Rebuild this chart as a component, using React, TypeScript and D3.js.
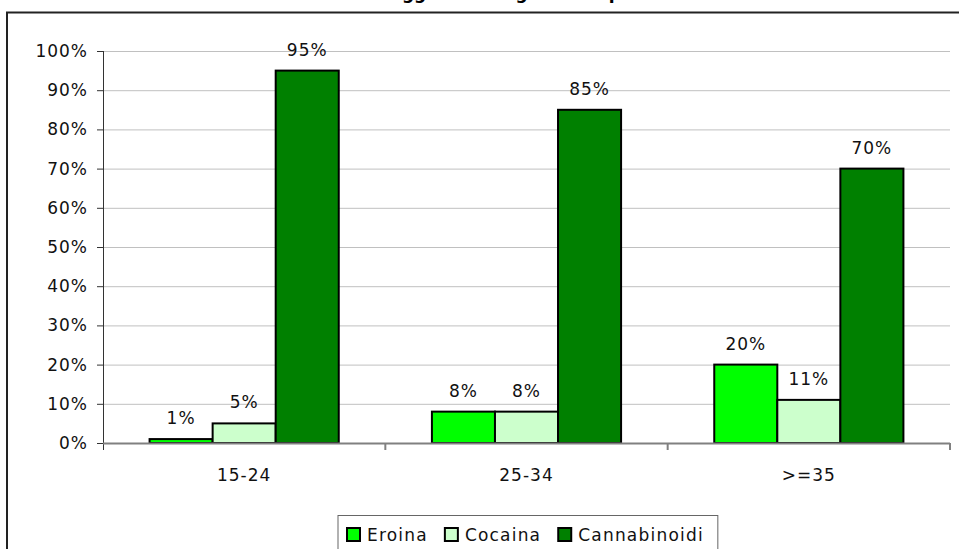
import React, { useEffect, useRef } from "react";
import * as d3 from "d3";

const categories = ["15-24", "25-34", ">=35"];
const seriesNames = ["Eroina", "Cocaina", "Cannabinoidi"];
const seriesColors = ["#00FF00", "#CCFFCC", "#008000"];
const eroina = [1, 8, 20];
const cocaina = [5, 8, 11];
const cannabinoidi = [95, 85, 70];
const yTicks = [0, 10, 20, 30, 40, 50, 60, 70, 80, 90, 100];
const title = "Soggetti e droga di uso primario";

const W = 959;
const H = 549;
const FONT = "'DejaVu Sans', Verdana, sans-serif";

export default function App() {
  const ref = useRef<SVGSVGElement | null>(null);

  useEffect(() => {
    const svg = d3.select(ref.current);
    svg.selectAll("*").remove();

    const plot = { left: 103, right: 950, top: 51, bottom: 443 };
    const series = [eroina, cocaina, cannabinoidi];

    // chart frame (extends past the right/bottom edges)
    svg
      .append("rect")
      .attr("x", 7)
      .attr("y", 12.5)
      .attr("width", W + 20)
      .attr("height", H + 20)
      .attr("fill", "#fff")
      .attr("stroke", "#222")
      .attr("stroke-width", 2);

    // title, sitting above the top edge of the frame
    svg
      .append("text")
      .attr("x", 378)
      .attr("y", -1)
      .attr("font-family", FONT)
      .attr("font-weight", "bold")
      .attr("font-size", 17)
      .attr("fill", "#000")
      .text(title);

    const x0 = d3
      .scaleBand<string>()
      .domain(categories)
      .range([plot.left, plot.right])
      .paddingInner(0)
      .paddingOuter(0);
    const groupInner = 0.67; // fraction of band used by bars
    const x1 = d3
      .scaleBand<string>()
      .domain(seriesNames)
      .range([0, x0.bandwidth() * groupInner]);
    const groupOffset = (x0.bandwidth() * (1 - groupInner)) / 2;

    const y = d3.scaleLinear().domain([0, 100]).range([plot.bottom, plot.top]);

    // gridlines
    svg
      .append("g")
      .selectAll("line")
      .data(yTicks.filter((t) => t > 0))
      .join("line")
      .attr("x1", plot.left)
      .attr("x2", plot.right)
      .attr("y1", (d) => y(d) + 0.5)
      .attr("y2", (d) => y(d) + 0.5)
      .attr("stroke", "#c0c0c0")
      .attr("stroke-width", 1);

    // y axis
    const yAxis = svg.append("g");
    yAxis
      .append("line")
      .attr("x1", plot.left + 0.5)
      .attr("x2", plot.left + 0.5)
      .attr("y1", plot.top)
      .attr("y2", plot.bottom + 7)
      .attr("stroke", "#333")
      .attr("stroke-width", 1);
    yAxis
      .selectAll("line.tick")
      .data(yTicks)
      .join("line")
      .attr("class", "tick")
      .attr("x1", plot.left - 6)
      .attr("x2", plot.left)
      .attr("y1", (d) => y(d) + 0.5)
      .attr("y2", (d) => y(d) + 0.5)
      .attr("stroke", "#333");
    yAxis
      .selectAll("text")
      .data(yTicks)
      .join("text")
      .attr("x", plot.left - 15)
      .attr("y", (d) => y(d) + 6)
      .attr("text-anchor", "end")
      .attr("font-family", FONT)
      .attr("font-size", 17)
      .attr("letter-spacing", 1)
      .attr("fill", "#111")
      .text((d) => `${d}%`);

    // bars
    const groups = svg
      .append("g")
      .selectAll("g")
      .data(categories)
      .join("g")
      .attr("transform", (c) => `translate(${(x0(c) as number) + groupOffset},0)`);

    groups.each(function (c, ci) {
      const g = d3.select(this);
      seriesNames.forEach((s, si) => {
        const v = series[si][ci];
        g.append("rect")
          .attr("x", x1(s) as number)
          .attr("y", y(v))
          .attr("width", x1.bandwidth())
          .attr("height", plot.bottom - y(v))
          .attr("fill", seriesColors[si])
          .attr("stroke", "#000")
          .attr("stroke-width", 2);
        g.append("text")
          .attr("x", (x1(s) as number) + x1.bandwidth() / 2)
          .attr("y", y(v) - 15)
          .attr("text-anchor", "middle")
          .attr("font-family", FONT)
          .attr("font-size", 17)
          .attr("letter-spacing", 1)
          .attr("fill", "#111")
          .text(`${v}%`);
      });
    });

    // x axis
    const xAxis = svg.append("g");
    xAxis
      .append("line")
      .attr("x1", plot.left)
      .attr("x2", plot.right)
      .attr("y1", plot.bottom + 0.5)
      .attr("y2", plot.bottom + 0.5)
      .attr("stroke", "#808080")
      .attr("stroke-width", 2);
    const boundaries = categories.map((c) => (x0(c) as number) + x0.bandwidth());
    xAxis
      .selectAll("line.tick")
      .data(boundaries)
      .join("line")
      .attr("class", "tick")
      .attr("x1", (d) => d)
      .attr("x2", (d) => d)
      .attr("y1", plot.bottom)
      .attr("y2", plot.bottom + 7)
      .attr("stroke", "#808080")
      .attr("stroke-width", 2);
    xAxis
      .selectAll("text")
      .data(categories)
      .join("text")
      .attr("x", (c) => (x0(c) as number) + x0.bandwidth() / 2)
      .attr("y", plot.bottom + 38)
      .attr("text-anchor", "middle")
      .attr("font-family", FONT)
      .attr("font-size", 17)
      .attr("letter-spacing", 1)
      .attr("fill", "#111")
      .text((c) => c);

    // legend
    const legend = svg.append("g");
    const box = legend
      .append("rect")
      .attr("x", 338)
      .attr("y", 515.5)
      .attr("height", 60)
      .attr("fill", "#fff")
      .attr("stroke", "#666")
      .attr("stroke-width", 1);
    let cx = 347;
    seriesNames.forEach((s, i) => {
      legend
        .append("rect")
        .attr("x", cx)
        .attr("y", 528)
        .attr("width", 13)
        .attr("height", 13)
        .attr("fill", seriesColors[i])
        .attr("stroke", "#000")
        .attr("stroke-width", 2);
      const t = legend
        .append("text")
        .attr("x", cx + 20)
        .attr("y", 541)
        .attr("font-family", FONT)
        .attr("font-size", 17)
        .attr("letter-spacing", 1.2)
        .attr("fill", "#111")
        .text(s);
      const w = (t.node() as SVGTextElement).getComputedTextLength();
      cx += 20 + w + 17;
    });
    box.attr("width", cx - 338 - 3);
  }, []);

  return (
    <svg
      ref={ref}
      width={W}
      height={H}
      style={{ position: "absolute", left: 0, top: 0, background: "#fff" }}
    />
  );
}
